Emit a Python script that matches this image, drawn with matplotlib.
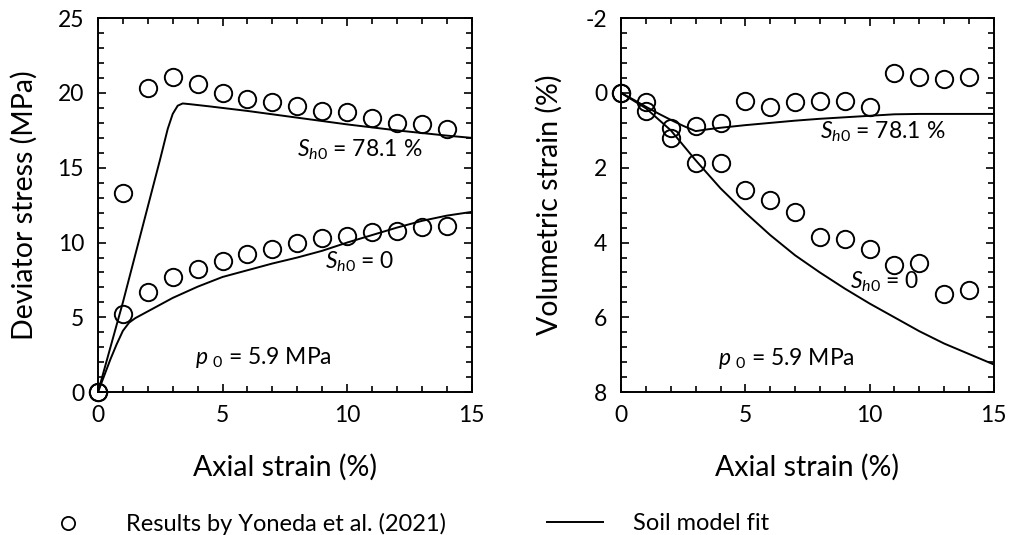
import matplotlib
matplotlib.use("Agg")
import matplotlib.pyplot as plt
from matplotlib.lines import Line2D
from matplotlib.ticker import MultipleLocator

plt.rcParams['font.family'] = ['Lato', 'DejaVu Sans']
plt.rcParams['mathtext.fontset'] = 'custom'
plt.rcParams['mathtext.rm'] = 'Lato'
plt.rcParams['mathtext.it'] = 'Lato:italic'
plt.rcParams['axes.unicode_minus'] = False

#====Data
strain_pts = [0, 1, 2, 3, 4, 5, 6, 7, 8, 9, 10, 11, 12, 13, 14]

# deviator stress (MPa), Yoneda et al. (2021)
q_hyd = [0, 13.3, 20.3, 21.1, 20.6, 20.0, 19.6, 19.4, 19.1, 18.8, 18.7, 18.3, 18.0, 17.9, 17.6]
q_dry = [0, 5.25, 6.7, 7.7, 8.25, 8.8, 9.25, 9.6, 10.0, 10.3, 10.45, 10.7, 10.8, 11.05, 11.1]

# volumetric strain (%), Yoneda et al. (2021)
ev_hyd = [0, 0.23, 0.93, 0.88, 0.79, 0.21, 0.37, 0.25, 0.21, 0.21, 0.37, -0.53, -0.42, -0.38, -0.42]
ev_dry = [0, 0.48, 1.2, 1.88, 1.88, 2.6, 2.87, 3.18, 3.85, 3.91, 4.16, 4.59, 4.54, 5.37, 5.26]

# soil model fit
fit_q_hyd_x = [0, 0.5, 1, 1.5, 2, 2.5, 2.8, 3.0, 3.2, 3.4, 3.7, 4.5, 6, 8, 10, 12, 14, 15]
fit_q_hyd_y = [0, 3.0, 6.0, 9.2, 12.4, 15.6, 17.6, 18.6, 19.15, 19.3, 19.25, 19.1, 18.8, 18.35, 17.9, 17.5, 17.15, 17.0]
fit_q_dry_x = [0, 0.25, 0.5, 0.75, 1.0, 1.25, 1.5, 2, 2.5, 3, 4, 5, 6, 7, 8, 9, 10, 11, 12, 13, 14, 15]
fit_q_dry_y = [0, 1.1, 2.2, 3.2, 4.1, 4.65, 4.95, 5.4, 5.85, 6.3, 7.05, 7.7, 8.15, 8.6, 9.0, 9.45, 10.0, 10.5, 11.0, 11.45, 11.8, 12.05]

fit_ev_hyd_x = [0, 0.5, 1, 1.5, 2, 2.5, 3, 3.5, 4, 5, 6, 7, 8, 9, 10, 11, 12, 13, 14, 15]
fit_ev_hyd_y = [0, 0.18, 0.37, 0.55, 0.72, 0.88, 1.02, 0.97, 0.93, 0.86, 0.8, 0.74, 0.69, 0.65, 0.61, 0.57, 0.56, 0.56, 0.56, 0.56]
fit_ev_dry_x = [0, 1, 2, 3, 4, 5, 6, 7, 8, 9, 10, 11, 12, 13, 14, 15]
fit_ev_dry_y = [0, 0.41, 1.0, 1.8, 2.55, 3.2, 3.8, 4.34, 4.8, 5.23, 5.63, 6.0, 6.37, 6.7, 6.98, 7.26]

label_hyd = r'$S_{h\mathrm{0}}$ = 78.1 %'
label_dry = r'$S_{h\mathrm{0}}$ = 0'
label_p0 = r'$p\;{}_{\mathrm{0}}$ = 5.9 MPa'

#====Style helpers
mk = dict(marker='o', ls='none', ms=12.5, mfc='none', mec='black', mew=1.4, clip_on=False, zorder=3)
ln = dict(color='black', lw=1.4)
TICK_FS = 16.5
TEXT_FS = 16.5
LABEL_FS = 20.5


def style_axes(ax, ymajor, yminor):
    ax.set_xlim(0, 15)
    ax.xaxis.set_major_locator(MultipleLocator(5))
    ax.xaxis.set_minor_locator(MultipleLocator(1))
    ax.yaxis.set_major_locator(MultipleLocator(ymajor))
    ax.yaxis.set_minor_locator(MultipleLocator(yminor))
    ax.tick_params(which='both', direction='in', top=True, right=True,
                   width=1.2, labelsize=TICK_FS)
    ax.tick_params(which='major', length=6)
    ax.tick_params(which='minor', length=4)
    ax.tick_params(axis='x', pad=9)
    ax.tick_params(axis='y', pad=10)
    for s in ax.spines.values():
        s.set_linewidth(1.4)
    ax.set_xlabel('Axial strain (%)', fontsize=LABEL_FS, va='center')
    ax.xaxis.set_label_coords(0.5, -0.20)


fig = plt.figure(figsize=(10.1, 5.35), dpi=100)
ax1 = fig.add_axes([0.097, 0.267, 0.370, 0.699])
ax2 = fig.add_axes([0.615, 0.267, 0.369, 0.699])

#====Left: deviator stress
ax1.plot(fit_q_hyd_x, fit_q_hyd_y, **ln)
ax1.plot(fit_q_dry_x, fit_q_dry_y, **ln)
ax1.plot(strain_pts, q_hyd, **mk)
ax1.plot(strain_pts, q_dry, **mk)
ax1.set_ylim(0, 25)
style_axes(ax1, 5, 1)
ax1.set_ylabel('Deviator stress (MPa)', fontsize=LABEL_FS, va='center')
ax1.yaxis.set_label_coords(-0.198, 0.5)
ax1.text(7.97, 16.2, label_hyd, fontsize=TEXT_FS, va='center')
ax1.text(9.1, 8.7, label_dry, fontsize=TEXT_FS, va='center')
ax1.text(3.9, 2.35, label_p0, fontsize=TEXT_FS, va='center')

#====Right: volumetric strain
ax2.plot(fit_ev_hyd_x, fit_ev_hyd_y, **ln)
ax2.plot(fit_ev_dry_x, fit_ev_dry_y, **ln)
ax2.plot(strain_pts, ev_hyd, **mk)
ax2.plot(strain_pts, ev_dry, **mk)
ax2.set_ylim(8, -2)
style_axes(ax2, 2, 0.4)
ax2.set_ylabel('Volumetric strain (%)', fontsize=LABEL_FS, va='center')
ax2.yaxis.set_label_coords(-0.193, 0.5)
ax2.text(8.0, 1.04, label_hyd, fontsize=TEXT_FS, va='center')
ax2.text(9.2, 5.05, label_dry, fontsize=TEXT_FS, va='center')
ax2.text(3.9, 7.1, label_p0, fontsize=TEXT_FS, va='center')

#====Legend below the panels
LEG_FS = 17
h_pts = Line2D([], [], marker='o', ls='none', ms=9.5, mfc='none', mec='black', mew=1.3)
h_fit = Line2D([], [], color='black', lw=1.4)
y_leg = 1 - 524 / 535
for h, lab, x0 in [(h_pts, 'Results by Yoneda et al. (2021)', 40 / 1010),
                   (h_fit, 'Soil model fit', 547 / 1010)]:
    fig.legend([h], [lab], loc='center left', bbox_to_anchor=(x0, y_leg),
               frameon=False, fontsize=LEG_FS, handlelength=2.37,
               handletextpad=1.27, borderpad=0, borderaxespad=0)

plt.savefig('out.png', dpi=100)
